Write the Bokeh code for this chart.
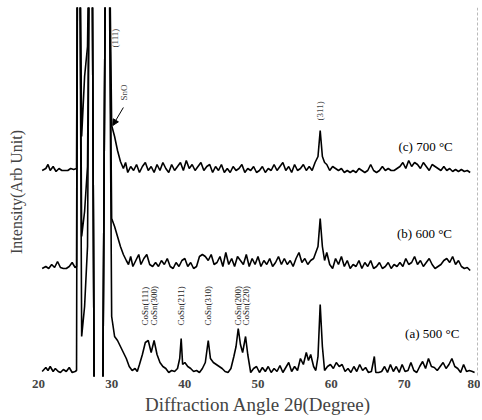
from bokeh.plotting import figure
from bokeh.models import Arrow, NormalHead, Span, FixedTicker
from bokeh.core.properties import value
from bokeh.embed import file_html
from bokeh.resources import INLINE

FONT = "Liberation Serif"

# ---- data (2theta, intensity in arbitrary stacked units) ----
a_x = [20.5, 21.0, 21.3, 21.6, 22.0, 22.3, 22.7, 23.0, 23.4, 23.8, 24.2, 24.6, 25.0, 25.2,
       25.35, 25.6, 25.9, 26.3, 26.7, 27.0, 27.3, 27.6, 28.2, 28.8, 29.2, 29.6,
       30.0, 30.4, 30.8, 31.2, 31.6, 32.0, 32.4, 32.8, 33.2, 33.5, 33.8, 34.2, 34.6, 35.0,
       35.4, 35.8, 36.2, 36.6, 37.0, 37.4, 37.8, 38.2, 38.6, 39.0, 39.3, 39.5, 39.7, 40.0,
       40.4, 40.8, 41.2, 41.6, 42.0, 42.4, 42.8, 43.2, 43.5, 43.9, 44.3, 44.7, 45.1, 45.5,
       45.9, 46.3, 46.7, 47.0, 47.3, 47.6, 47.9, 48.3, 48.6, 49.0, 49.4, 49.8, 50.2, 50.6,
       51.0, 51.4, 51.8, 52.2, 52.6, 53.0, 53.4, 53.8, 54.2, 54.6, 55.0, 55.4, 55.8, 56.2,
       56.6, 56.9, 57.2, 57.6, 57.9, 58.2, 58.5, 58.8, 59.1, 59.5, 59.9, 60.3, 60.7, 61.1,
       61.5, 61.9, 62.3, 62.7, 63.1, 63.5, 63.9, 64.3, 64.7, 65.1, 65.5, 65.9, 66.1, 66.5,
       66.9, 67.3, 67.7, 68.1, 68.5, 68.9, 69.3, 69.7, 70.1, 70.5, 70.9, 71.3, 71.7, 72.1,
       72.5, 72.9, 73.3, 73.7, 74.1, 74.5, 74.9, 75.3, 75.7, 76.1, 76.5, 76.9, 77.3, 77.7,
       78.1, 78.5, 78.9, 79.3, 79.6]
a_y = [5, 9, 6, 10, 5, 8, 5, 4, 7, 5, 9, 4, 5, 6,
       500, 500, 40, 70, 130, 500, 500, -10, -10, -10, 500, 500,
       60, 40, 36, 30, 24, 18, 10, 6, 8, 5, 12, 22, 34, 36,
       24, 36, 22, 14, 10, 8, 4, 6, 5, 8, 18, 38, 12, 14,
       10, 8, 5, 6, 4, 8, 14, 36, 18, 14, 12, 10, 8, 5,
       4, 8, 20, 30, 48, 32, 24, 40, 22, 4, 8, 10, 4, 9,
       5, 10, 4, 8, 5, 11, 4, 9, 14, 5, 10, 6, 18, 12,
       24, 16, 22, 10, 6, 20, 72, 30, 6, 10, 12, 8, 14, 10,
       12, 5, 8, 4, 10, 5, 12, 6, 9, 4, 5, 20, 4, 4,
       5, 10, 4, 12, 5, 10, 4, 12, 5, 6, 14, 6, 4, 10,
       15, 8, 18, 10, 9, 6, 10, 14, 8, 12, 18, 10, 8, 4,
       12, 5, 6, 5, 4]

b_x = [20.5, 21.0, 21.4, 21.8, 22.2, 22.6, 23.0, 23.4, 23.8, 24.2, 24.6, 25.0, 25.2,
       25.35, 25.6, 25.9, 26.3, 26.7, 27.0, 27.3, 27.6, 28.2, 28.8, 29.2, 29.6,
       30.0, 30.4, 30.8, 31.2, 31.6, 32.0, 32.3, 32.6, 32.9, 33.3, 33.7, 34.0, 34.4, 34.8,
       35.2, 35.6, 36.0, 36.4, 36.8, 37.2, 37.6, 38.0, 38.4, 38.8, 39.2, 39.6, 40.0, 40.4,
       40.8, 41.2, 41.6, 42.0, 42.4, 42.8, 43.2, 43.6, 44.0, 44.4, 44.8, 45.2, 45.6, 46.0,
       46.4, 46.8, 47.2, 47.6, 48.0, 48.4, 48.8, 49.2, 49.6, 50.0, 50.4, 50.8, 51.2, 51.6,
       52.0, 52.4, 52.8, 53.2, 53.6, 54.0, 54.4, 54.8, 55.2, 55.6, 56.0, 56.4, 56.8, 57.2,
       57.6, 57.9, 58.2, 58.5, 58.8, 59.1, 59.4, 59.8, 60.2, 60.6, 61.0, 61.4, 61.8, 62.2,
       62.6, 63.0, 63.4, 63.8, 64.2, 64.6, 65.0, 65.4, 65.8, 66.2, 66.6, 67.0, 67.4, 67.8,
       68.2, 68.6, 69.0, 69.4, 69.8, 70.2, 70.6, 71.0, 71.4, 71.8, 72.2, 72.6, 73.0, 73.4,
       73.8, 74.2, 74.6, 75.0, 75.4, 75.8, 76.2, 76.6, 77.0, 77.4, 77.8, 78.2, 78.6, 79.0]
b_y = [108, 110, 108, 112, 109, 115, 109, 108, 108, 110, 114, 109, 110,
       500, 500, 140, 165, 210, 500, 500, -10, -10, -10, 500, 500,
       158, 150, 140, 130, 122, 116, 112, 120, 110, 116, 122, 112, 118, 122,
       112, 110, 114, 110, 116, 112, 118, 110, 108, 114, 110, 116, 118, 110,
       114, 108, 110, 120, 122, 120, 116, 122, 112, 114, 120, 110, 124, 112,
       118, 110, 120, 116, 112, 122, 110, 118, 112, 120, 110, 116, 112, 118,
       110, 114, 120, 112, 118, 112, 116, 110, 118, 124, 114, 118, 112, 116,
       118, 124, 130, 158, 130, 116, 124, 112, 108, 118, 112, 120, 110, 116,
       108, 112, 110, 116, 108, 114, 110, 116, 108, 110, 114, 108, 110, 114,
       108, 112, 110, 114, 110, 118, 112, 114, 120, 112, 116, 110, 114, 118,
       112, 108, 110, 112, 116, 118, 114, 120, 112, 116, 110, 108, 109, 106]

c_x = [20.5, 21.0, 21.3, 21.6, 22.0, 22.4, 22.8, 23.2, 23.6, 24.0, 24.4, 24.8, 25.2,
       25.35, 25.6, 25.9, 26.3, 26.7, 27.0, 27.3, 27.6, 28.2, 28.8, 29.2, 29.6,
       30.0, 30.4, 30.8, 31.2, 31.6, 31.9, 32.2, 32.6, 33.0, 33.4, 33.8, 34.2, 34.6, 35.0,
       35.4, 35.8, 36.2, 36.6, 37.0, 37.4, 37.8, 38.2, 38.6, 39.0, 39.4, 39.8, 40.2, 40.6,
       41.0, 41.4, 41.8, 42.2, 42.6, 43.0, 43.4, 43.8, 44.2, 44.6, 45.0, 45.4, 45.8, 46.2,
       46.6, 47.0, 47.4, 47.8, 48.2, 48.6, 49.0, 49.4, 49.8, 50.2, 50.6, 51.0, 51.4, 51.8,
       52.2, 52.6, 53.0, 53.4, 53.8, 54.2, 54.6, 55.0, 55.4, 55.8, 56.2, 56.6, 57.0, 57.4,
       57.8, 58.2, 58.5, 58.8, 59.1, 59.4, 59.8, 60.2, 60.6, 61.0, 61.4, 61.8, 62.2, 62.6,
       63.0, 63.4, 63.8, 64.2, 64.6, 65.0, 65.4, 65.8, 66.2, 66.6, 67.0, 67.4, 67.8, 68.2,
       68.6, 69.0, 69.4, 69.8, 70.2, 70.6, 71.0, 71.4, 71.8, 72.2, 72.6, 73.0, 73.4, 73.8,
       74.2, 74.6, 75.0, 75.4, 75.8, 76.2, 76.6, 77.0, 77.4, 77.8, 78.2, 78.6, 79.0]
c_y = [206, 208, 212, 206, 210, 205, 208, 206, 206, 206, 208, 207, 208,
       500, 500, 240, 300, 330, 500, 500, -10, -10, -10, 500, 500,
       251, 240, 226, 215, 208, 214, 204, 210, 206, 212, 204, 210, 214, 206,
       210, 204, 212, 206, 214, 208, 204, 212, 206, 210, 214, 206, 216, 208,
       212, 206, 210, 214, 206, 210, 212, 204, 210, 206, 212, 204, 208, 204,
       210, 206, 208, 212, 204, 208, 206, 210, 204, 206, 210, 204, 208, 206,
       212, 206, 210, 214, 206, 210, 204, 212, 206, 208, 212, 206, 210, 206,
       214, 220, 246, 220, 214, 212, 206, 210, 208, 206, 208, 204, 206, 204,
       206, 204, 208, 206, 204, 206, 212, 206, 204, 206, 210, 206, 208, 206,
       206, 208, 210, 214, 208, 216, 210, 214, 212, 208, 214, 210, 206, 212,
       210, 208, 206, 210, 206, 208, 205, 207, 205, 207, 205, 206, 204]

x_ticks = [20, 30, 40, 50, 60, 70, 80]

series_labels = ["(a) 500 °C", "(b) 600 °C", "(c) 700 °C"]
series_label_x = [70.1, 69.0, 69.2]
series_label_y = [43, 143, 230]

peak_labels = ["CoSn(111)", "CoSn(300)", "CoSn(211)", "CoSn(310)", "CoSn(200)", "CoSn(220)"]
peak_label_x = [34.6, 35.8, 39.5, 43.2, 47.3, 48.4]
peak_label_y = [51, 51, 51, 51, 51, 51]

top_labels = ["(111)", "SnO", "(311)"]
top_label_x = [30.5, 31.7, 58.5]
top_label_y = [329, 276, 256]

arrow_start = (31.6, 269)
arrow_end = (30.15, 251)

# ---- figure ----
p = figure(width=480, height=418, output_backend="svg", toolbar_location=None,
           x_range=(20, 80), y_range=(0, 369),
           min_border_left=38, min_border_right=3, min_border_top=7, min_border_bottom=42)
p.outline_line_color = None
p.grid.visible = False
p.background_fill_color = "white"

for xs, ys in [(a_x, a_y), (b_x, b_y), (c_x, c_y)]:
    p.line(xs, ys, line_color="black", line_width=1.6)

p.text(x=series_label_x, y=series_label_y, text=series_labels,
       text_font=value(FONT), text_font_size="13px", text_color="black",
       text_baseline="middle", text_align="left")

p.text(x=peak_label_x, y=peak_label_y, text=peak_labels, angle=1.5708,
       text_font=value(FONT), text_font_size="9px", text_color="#222",
       text_baseline="middle", text_align="left")

p.text(x=top_label_x, y=top_label_y, text=top_labels, angle=1.5708,
       text_font=value(FONT), text_font_size="9px", text_color="#444",
       text_baseline="middle", text_align="left")

p.add_layout(Arrow(end=NormalHead(size=6, fill_color="black", line_color="black"),
                   x_start=arrow_start[0], y_start=arrow_start[1],
                   x_end=arrow_end[0], y_end=arrow_end[1],
                   line_color="black", line_width=1))

p.add_layout(Span(location=80, dimension="height", line_color="#777",
                  line_width=1, line_dash="3 2"))

xa = p.xaxis[0]
xa.ticker = FixedTicker(ticks=x_ticks)
xa.axis_line_color = None
xa.major_tick_line_color = None
xa.minor_tick_line_color = None
xa.major_tick_out = 0
xa.major_tick_in = 0
xa.minor_tick_out = 0
xa.major_label_standoff = 3
xa.major_label_text_font = FONT
xa.major_label_text_font_size = "13px"
xa.major_label_text_font_style = "bold"
xa.axis_label = "Diffraction Angle 2θ(Degree)"
xa.axis_label_text_font = FONT
xa.axis_label_text_font_size = "19px"
xa.axis_label_text_font_style = "normal"
xa.axis_label_standoff = 3

ya = p.yaxis[0]
ya.ticker = FixedTicker(ticks=[])
ya.axis_line_color = None
ya.major_tick_line_color = None
ya.minor_tick_line_color = None
ya.major_tick_out = 0
ya.major_tick_in = 0
ya.minor_tick_out = 0
ya.major_label_text_font_size = "0px"
ya.major_label_standoff = 0
ya.axis_label = "Intensity(Arb Unit)"
ya.axis_label_text_font = FONT
ya.axis_label_text_font_size = "16px"
ya.axis_label_text_font_style = "normal"
ya.axis_label_standoff = 14

open("out.html", "w").write(file_html(p, INLINE))
